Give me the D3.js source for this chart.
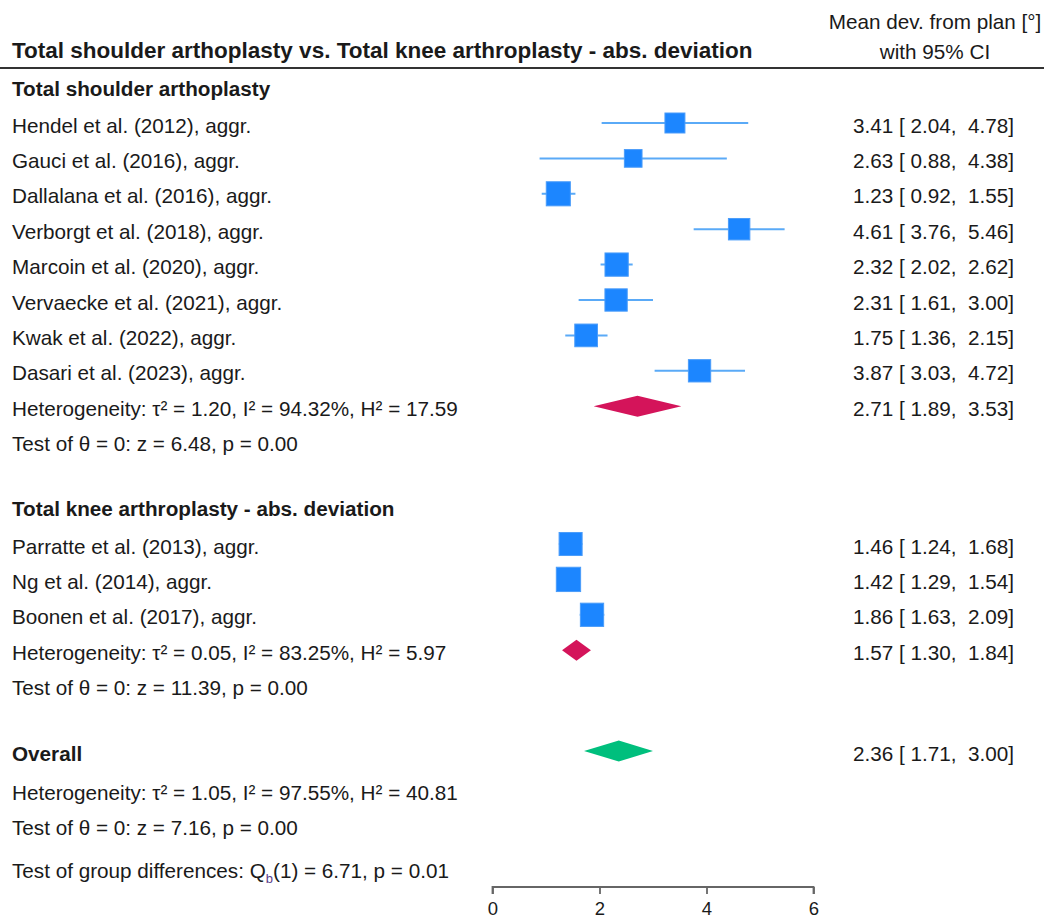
<!DOCTYPE html>
<html>
<head>
<meta charset="utf-8">
<script src="https://cdn.jsdelivr.net/npm/d3@7"></script>
<style>
  body { margin: 0; background: #fff; }
  svg text { font-family: "Liberation Sans", Arial, sans-serif; fill: #1a1a1a; white-space: pre; }
</style>
</head>
<body>
<div id="chart"></div>
<script>
// study level data
const studyNames = [
  "Hendel et al. (2012), aggr.", "Gauci et al. (2016), aggr.", "Dallalana et al. (2016), aggr.",
  "Verborgt et al. (2018), aggr.", "Marcoin et al. (2020), aggr.", "Vervaecke et al. (2021), aggr.",
  "Kwak et al. (2022), aggr.", "Dasari et al. (2023), aggr.",
  "Parratte et al. (2013), aggr.", "Ng et al. (2014), aggr.", "Boonen et al. (2017), aggr."
];
const studyGroup = [0, 0, 0, 0, 0, 0, 0, 0, 1, 1, 1];
const studyMean = [3.41, 2.63, 1.23, 4.61, 2.32, 2.31, 1.75, 3.87, 1.46, 1.42, 1.86];
const studyLow  = [2.04, 0.88, 0.92, 3.76, 2.02, 1.61, 1.36, 3.03, 1.24, 1.29, 1.63];
const studyHigh = [4.78, 4.38, 1.55, 5.46, 2.62, 3.00, 2.15, 4.72, 1.68, 1.54, 2.09];
// weights (%)
const studyWeight = [7.3, 5.7, 10.6, 8.4, 9.9, 9.1, 9.4, 9.1, 9.7, 10.8, 9.9];

// subgroup summaries
const groupNames = ["Total shoulder arthoplasty", "Total knee arthroplasty - abs. deviation"];
const groupMean = [2.71, 1.57];
const groupLow  = [1.89, 1.30];
const groupHigh = [3.53, 1.84];
const groupHet = [
  "Heterogeneity: \u03c4\u00b2 = 1.20, I\u00b2 = 94.32%, H\u00b2 = 17.59",
  "Heterogeneity: \u03c4\u00b2 = 0.05, I\u00b2 = 83.25%, H\u00b2 = 5.97"
];
const groupTest = ["Test of \u03b8 = 0: z = 6.48, p = 0.00", "Test of \u03b8 = 0: z = 11.39, p = 0.00"];

// overall
const overallMean = 2.36, overallLow = 1.71, overallHigh = 3.00;
const overallHet = "Heterogeneity: \u03c4\u00b2 = 1.05, I\u00b2 = 97.55%, H\u00b2 = 40.81";
const overallTest = "Test of \u03b8 = 0: z = 7.16, p = 0.00";
const groupDiffQ = "6.71", groupDiffP = "0.01";

const chartTitle = "Total shoulder arthoplasty vs. Total knee arthroplasty - abs. deviation";
const colHeader = ["Mean dev. from plan [\u00b0]", "with 95% CI"];
const xTicks = [0, 2, 4, 6];

const svgWidth = 1044, svgHeight = 919;
const svg = d3.select("#chart").append("svg")
  .attr("width", svgWidth)
  .attr("height", svgHeight);

const x = d3.scaleLinear().domain([0, 6]).range([492.5, 813.5]);
const size = d3.scaleSqrt().domain([0, 10.8]).range([0, 24.3]);
const fmt = d3.format(".2f");
const ciText = (m, l, h) => `${fmt(m)} [ ${fmt(l)},  ${fmt(h)}]`;

const leftX = 12, valX = 1014, fs = 20.7, base = 9.5;

// header
svg.append("text").attr("x", leftX).attr("y", 58)
  .attr("font-size", 22.5).attr("font-weight", "bold").text(chartTitle);
svg.append("text").attr("x", 935).attr("y", 29).attr("text-anchor", "middle")
  .attr("font-size", fs).text(colHeader[0]);
svg.append("text").attr("x", 935).attr("y", 59).attr("text-anchor", "middle")
  .attr("font-size", fs).text(colHeader[1]);
svg.append("line").attr("x1", 0).attr("x2", svgWidth).attr("y1", 68).attr("y2", 68)
  .attr("stroke", "#333").attr("stroke-width", 2);

// row positions
const groupTitleY = [86, 506];
const studyStartY = [123, 544];
const step = 35.4;

function label(y, txt, bold) {
  svg.append("text").attr("x", leftX).attr("y", y + base)
    .attr("font-size", fs).attr("font-weight", bold ? "bold" : null).text(txt);
}
function value(y, txt) {
  svg.append("text").attr("x", valX).attr("y", y + base)
    .attr("text-anchor", "end").attr("font-size", fs).text(txt);
}
function diamond(y, m, l, h, color) {
  const hh = 10.5;
  svg.append("path")
    .attr("d", `M${x(l)},${y}L${x(m)},${y - hh}L${x(h)},${y}L${x(m)},${y + hh}Z`)
    .attr("fill", color);
}

const rowY = [];
groupNames.forEach((g, gi) => {
  label(groupTitleY[gi], g, true);
  let k = 0;
  studyNames.forEach((n, i) => {
    if (studyGroup[i] !== gi) return;
    rowY[i] = studyStartY[gi] + k * step;
    k++;
  });
  const hetY = studyStartY[gi] + k * step;
  label(hetY, groupHet[gi]);
  value(hetY, ciText(groupMean[gi], groupLow[gi], groupHigh[gi]));
  diamond(hetY, groupMean[gi], groupLow[gi], groupHigh[gi], "#d4145a");
  label(hetY + step, groupTest[gi]);
});

const studies = studyNames.map((n, i) => ({
  name: n, m: studyMean[i], l: studyLow[i], h: studyHigh[i], w: studyWeight[i], y: rowY[i]
}));

const rows = svg.append("g").selectAll("g").data(studies).enter().append("g");
rows.append("line")
  .attr("x1", d => x(d.l)).attr("x2", d => x(d.h))
  .attr("y1", d => d.y).attr("y2", d => d.y)
  .attr("stroke", "#5aaaf7").attr("stroke-width", 2);
rows.append("rect")
  .attr("x", d => x(d.m) - size(d.w) / 2).attr("y", d => d.y - size(d.w) / 2)
  .attr("width", d => size(d.w)).attr("height", d => size(d.w))
  .attr("fill", "#1c86ff").attr("stroke", "#4a9cfa").attr("stroke-width", 1);
studies.forEach(d => { label(d.y, d.name); value(d.y, ciText(d.m, d.l, d.h)); });

// overall
const overallY = 751;
label(overallY, "Overall", true);
value(overallY, ciText(overallMean, overallLow, overallHigh));
diamond(overallY, overallMean, overallLow, overallHigh, "#00bf7d");
label(790, overallHet);
label(825, overallTest);

const gd = svg.append("text").attr("x", leftX).attr("y", 868 + base).attr("font-size", fs);
gd.append("tspan").text("Test of group differences: Q");
gd.append("tspan").attr("font-size", 13).attr("dy", 5).attr("fill", "#5a3c8a").text("b");
gd.append("tspan").attr("dy", -5).text(`(1) = ${groupDiffQ}, p = ${groupDiffP}`);

// axis
const axis = svg.append("g").attr("transform", "translate(0,887)")
  .call(d3.axisBottom(x).tickValues(xTicks).tickSize(7).tickPadding(8).tickFormat(d3.format("d")));
axis.select(".domain").attr("stroke", "#666").attr("stroke-width", 1.8).attr("d", `M${x(0)},7V0H${x(6)}V7`);
axis.selectAll(".tick line").attr("stroke", "#666").attr("stroke-width", 1.8);
axis.selectAll(".tick text").attr("font-size", 18.5).attr("font-family", "Liberation Sans, Arial, sans-serif").attr("fill", "#1a1a1a");
</script>
</body>
</html>
